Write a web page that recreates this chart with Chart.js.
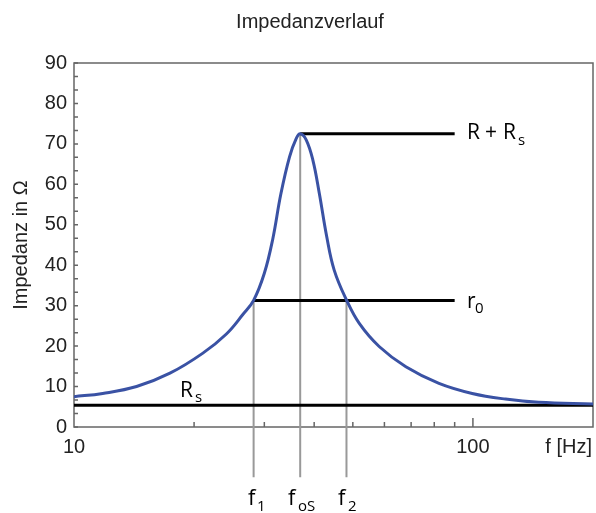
<!doctype html>
<html lang="de">
<head>
<meta charset="utf-8" />
<title>Impedanzverlauf</title>
<script src="https://cdn.jsdelivr.net/npm/chart.js"></script>
<style>
  html, body { margin: 0; padding: 0; background: #fff; }
</style>
</head>
<body>
<canvas id="chartImpedance" width="596" height="513"></canvas>
<script>
  // values
  const frequency = [10, 11.8, 14.35, 17.4, 21.0, 24.1, 26.5, 28.2, 30.0, 31.5, 33.0, 34.7, 36.1, 36.9, 38.2, 39.7, 41.2, 43.0, 44.9, 48.2, 51.9, 58.2, 67.9, 82.2, 99.6, 120.7, 146.2, 200];
  const impedance = [7.5, 8.3, 10.0, 13.3, 18.2, 23.0, 27.8, 31.3, 38.0, 46.5, 57.6, 66.8, 71.4, 72.5, 71.0, 66.0, 57.8, 47.1, 38.8, 31.4, 25.6, 19.9, 14.9, 10.8, 8.3, 6.9, 6.1, 5.7];

  const markerFreq = [28.2, 36.9, 48.2];   // f1, foS, f2
  const markerTop = [31.3, 72.5, 31.3];
  const markerBottom = -12.4;              // lines run below the axis

  const levelPeak = 72.5;   // R + Rs
  const levelR0 = 31.3;     // r0
  const levelRs = 5.4;      // Rs
  const levelEnd = 90;      // where the R+Rs and r0 lines stop

  const xRange = [10, 200];
  const yRange = [0, 90];
  const xTickLabels = [10, 100];
  const xMinorTicks = [20, 30, 40, 50, 60, 70, 80, 90];

  const TICK_FONT = { family: 'Liberation Sans', size: 20 };
  const NOTE_FONT = '"Open Sans"';

  function hLine(x0, x1, y) {
    return [{ x: x0, y: y }, { x: x1, y: y }];
  }

  const datasets = [
    {
      data: frequency.map((f, i) => ({ x: f, y: impedance[i] })),
      borderColor: '#3a52a4',
      borderWidth: 3,
      pointRadius: 0,
      tension: 0.4
    },
    { data: hLine(markerFreq[1], levelEnd, levelPeak), borderColor: '#000', borderWidth: 3, pointRadius: 0 },
    { data: hLine(markerFreq[0], levelEnd, levelR0), borderColor: '#000', borderWidth: 3, pointRadius: 0 },
    { data: hLine(xRange[0], xRange[1], levelRs), borderColor: '#000', borderWidth: 3, pointRadius: 0 }
  ];
  for (let i = 0; i < markerFreq.length; i++) {
    datasets.push({
      data: [{ x: markerFreq[i], y: markerTop[i] }, { x: markerFreq[i], y: markerBottom }],
      borderColor: '#999',
      borderWidth: 2,
      pointRadius: 0,
      clip: false
    });
  }

  function text(ctx, str, x, y, size, family, align) {
    ctx.font = size + 'px ' + family;
    ctx.textAlign = align || 'left';
    ctx.fillText(str, x, y);
  }

  const decorations = {
    id: 'decorations',
    beforeDatasetsDraw(chart) {
      const ctx = chart.ctx;
      const a = chart.chartArea;
      const xs = chart.scales.x;
      const ys = chart.scales.y;
      ctx.save();
      ctx.strokeStyle = '#666';
      ctx.lineWidth = 1.5;
      ctx.strokeRect(a.left, a.top, a.right - a.left, a.bottom - a.top);
      ctx.beginPath();
      for (const v of xMinorTicks) {
        const px = xs.getPixelForValue(v);
        ctx.moveTo(px, a.bottom);
        ctx.lineTo(px, a.bottom - 5);
      }
      const px100 = xs.getPixelForValue(100);
      ctx.moveTo(px100, a.bottom);
      ctx.lineTo(px100, a.bottom - 9);
      for (let v = yRange[0]; v <= yRange[1] + 0.01; v += 10 / 3) {
        const py = ys.getPixelForValue(v);
        ctx.moveTo(a.left, py);
        ctx.lineTo(a.left + 4, py);
      }
      ctx.stroke();
      ctx.restore();
    },
    afterDraw(chart) {
      const ctx = chart.ctx;
      ctx.save();
      ctx.fillStyle = '#222';
      ctx.textBaseline = 'alphabetic';
      text(ctx, 'Impedanzverlauf', 310, 28, 20, 'Liberation Sans', 'center');
      text(ctx, 'f [Hz]', 592, 453, 20, 'Liberation Sans', 'right');

      ctx.fillStyle = '#000';
      // R + Rs
      text(ctx, 'R', 467, 139, 21, NOTE_FONT);
      text(ctx, '+', 485, 139, 21, NOTE_FONT);
      text(ctx, 'R', 503, 139, 21, NOTE_FONT);
      text(ctx, 's', 518, 145, 15, NOTE_FONT);
      // r0
      text(ctx, 'r', 467, 308, 21, NOTE_FONT);
      text(ctx, '0', 475, 313, 15, NOTE_FONT);
      // Rs
      text(ctx, 'R', 180, 397, 21, NOTE_FONT);
      text(ctx, 's', 195, 402, 15, NOTE_FONT);
      // f1, foS, f2
      text(ctx, 'f', 248, 505, 22, NOTE_FONT);
      text(ctx, '1', 257, 511, 15, NOTE_FONT);
      text(ctx, 'f', 288, 505, 22, NOTE_FONT);
      text(ctx, 'oS', 298, 511, 15, NOTE_FONT);
      text(ctx, 'f', 338, 505, 22, NOTE_FONT);
      text(ctx, '2', 348, 511, 15, NOTE_FONT);
      ctx.restore();
    }
  };

  new Chart(document.getElementById('chartImpedance'), {
    type: 'line',
    data: { datasets: datasets },
    plugins: [decorations],
    options: {
      responsive: false,
      animation: false,
      layout: { padding: { top: 63, right: 3, left: 0, bottom: 0 } },
      plugins: {
        legend: { display: false },
        tooltip: { enabled: false },
        title: { display: false }
      },
      scales: {
        x: {
          type: 'logarithmic',
          min: xRange[0],
          max: xRange[1],
          afterBuildTicks: (scale) => { scale.ticks = xTickLabels.map(v => ({ value: v })); },
          afterFit: (scale) => { scale.height = 86; },
          grid: { display: false, drawTicks: false },
          border: { display: false },
          ticks: {
            color: '#222',
            font: TICK_FONT,
            padding: 8,
            maxRotation: 0,
            autoSkip: false,
            callback: (v) => String(v)
          }
        },
        y: {
          min: yRange[0],
          max: yRange[1],
          afterFit: (scale) => { scale.width = 74; },
          grid: { display: false, drawTicks: false },
          border: { display: false },
          ticks: { stepSize: 10, color: '#222', font: TICK_FONT, padding: 7 },
          title: {
            display: true,
            text: 'Impedanz in Ω',
            color: '#222',
            font: TICK_FONT,
            padding: { top: 9, bottom: 0 }
          }
        }
      }
    }
  });
</script>
</body>
</html>
